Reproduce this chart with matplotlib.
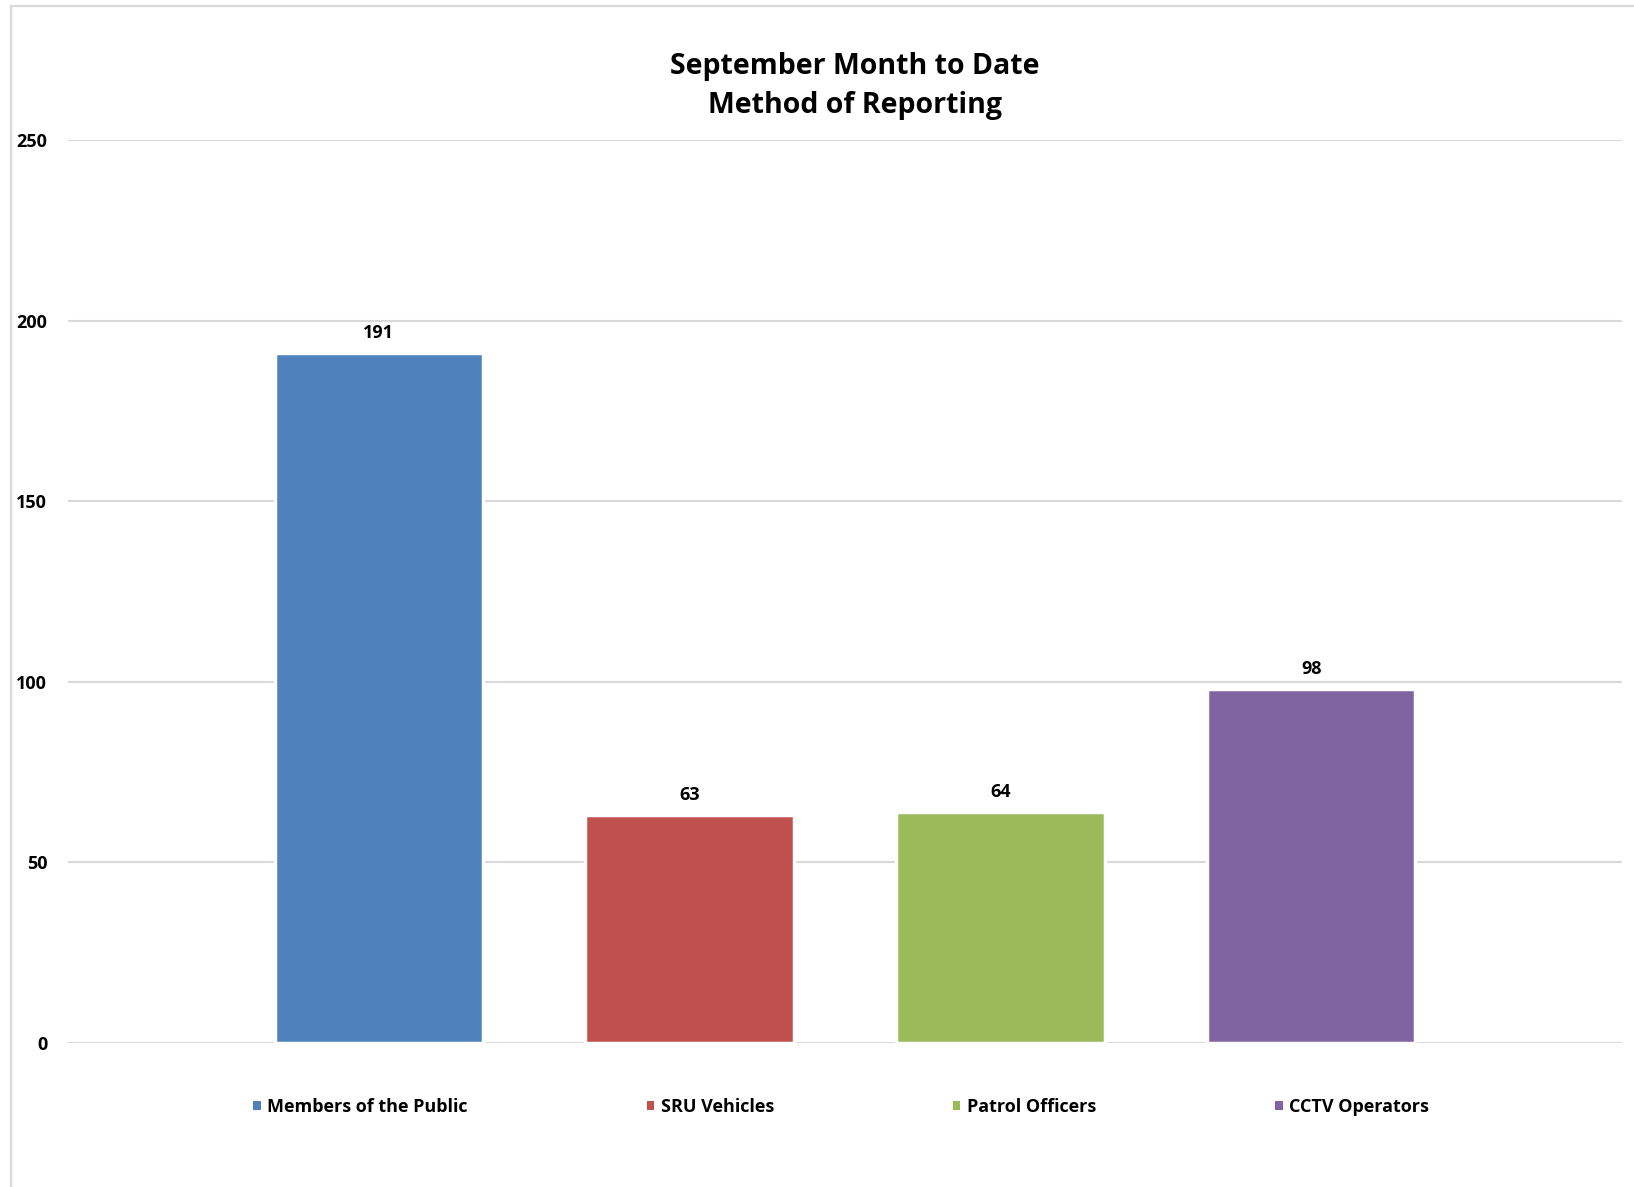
import matplotlib.pyplot as plt
from matplotlib.patches import Rectangle, Patch

# data
categories = ["Members of the Public", "SRU Vehicles", "Patrol Officers", "CCTV Operators"]
values = [191, 63, 64, 98]
colors = ["#4F81BD", "#C0504D", "#9BBB59", "#8064A2"]
y_ticks = [0, 50, 100, 150, 200, 250]

plt.rcParams["font.family"] = ["Open Sans", "DejaVu Sans"]
plt.rcParams["font.weight"] = "bold"

W, H = 1634, 1187
fig = plt.figure(figsize=(W / 100, H / 100), dpi=100)

# outer chart frame (cropped at right / bottom)
fig.patches.append(Rectangle((11 / W, -0.1), 2.0, 1 - 6 / H + 0.1,
                             transform=fig.transFigure, fill=False,
                             edgecolor="#D9D9D9", linewidth=1.6))

ax = fig.add_axes([68 / W, 1 - 1043 / H, (1622 - 68) / W, (1043 - 140) / H])

x = list(range(1, len(categories) + 1))
bars = ax.bar(x, values, width=0.67, color=colors, edgecolor="white",
              linewidth=2.5, zorder=3)

for xi, v in zip(x, values):
    ax.annotate(str(v), (xi, v), xytext=(0, 8), textcoords="offset points",
                ha="center", va="bottom", fontsize=13, fontweight="bold")

ax.set_xlim(0, 5)
ax.set_ylim(0, 250)
ax.set_yticks(y_ticks)
ax.set_xticks([])
ax.yaxis.grid(True, color="#D9D9D9", linewidth=1.5, zorder=0)
ax.set_axisbelow(True)
ax.tick_params(axis="y", length=0, pad=15, labelsize=13)
for lbl in ax.get_yticklabels():
    lbl.set_fontweight("bold")
for s in ax.spines.values():
    s.set_visible(False)

fig.text(855 / W, 1 - 86 / H, "September Month to Date\nMethod of Reporting",
         ha="center", va="center", fontsize=20.5, fontweight="bold",
         linespacing=1.42)

handles = [Patch(facecolor=c, edgecolor="none") for c in colors]
fig.legend(handles, categories, loc="center", bbox_to_anchor=(841 / W, 1 - 1107 / H),
           ncol=4, frameon=False, handlelength=0.43,
           handleheight=0.43, handletextpad=0.35, columnspacing=9.9,
           prop={"weight": "bold", "size": 13})

fig.savefig("out.png", dpi=100)
